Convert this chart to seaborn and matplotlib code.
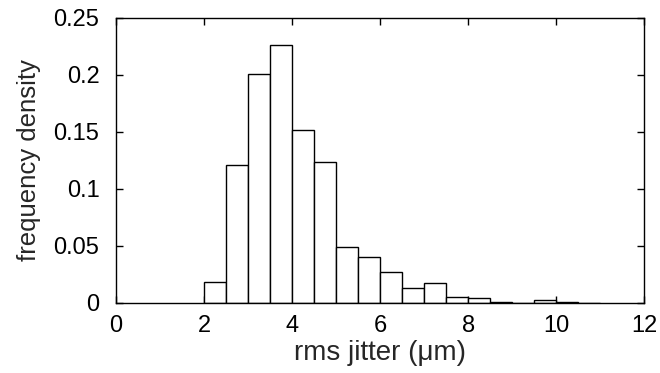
import matplotlib
matplotlib.use('agg')
import matplotlib.pyplot as plt
import pandas as pd
import seaborn as sns

# histogram of rms jitter, bin width 0.5 um, bins start at 2
bin_starts = [2.0, 2.5, 3.0, 3.5, 4.0, 4.5, 5.0, 5.5, 6.0,
              6.5, 7.0, 7.5, 8.0, 8.5, 9.0, 9.5, 10.0, 10.5]
density = [0.018, 0.121, 0.201, 0.226, 0.152, 0.124, 0.049, 0.040, 0.027,
           0.013, 0.017, 0.005, 0.004, 0.001, 0.0, 0.0026, 0.001, 0.0]

df = pd.DataFrame({'jitter': [b + 0.25 for b in bin_starts], 'density': density})

sns.set_style('ticks')
plt.rcParams['font.family'] = ['Liberation Sans', 'DejaVu Sans']

fig = plt.figure(figsize=(6.6, 3.73), dpi=100)
ax = fig.add_axes([0.176, 0.188, 0.8, 0.764])

sns.histplot(data=df, x='jitter', weights='density', binwidth=0.5, binrange=(2, 11),
             stat='count', color='white', edgecolor='black', linewidth=1.0,
             alpha=1, ax=ax)

ax.set_xlim(0, 12)
ax.set_ylim(0, 0.25)
ax.set_xticks([0, 2, 4, 6, 8, 10, 12])
ax.set_yticks([0, 0.05, 0.1, 0.15, 0.2, 0.25])
ax.set_yticklabels(['0', '0.05', '0.1', '0.15', '0.2', '0.25'])
ax.tick_params(direction='in', top=True, right=True, length=5, width=1,
               labelsize=17, colors='black')
ax.tick_params(axis='y', pad=12)
ax.tick_params(axis='x', pad=9)
for s in ax.spines.values():
    s.set_linewidth(1.0)
    s.set_color('black')
ax.set_xlabel('rms jitter (\u03bcm)', fontsize=20, labelpad=2)
ax.set_ylabel('frequency density', fontsize=18.5, labelpad=9)

fig.savefig('out.png', dpi=100)
